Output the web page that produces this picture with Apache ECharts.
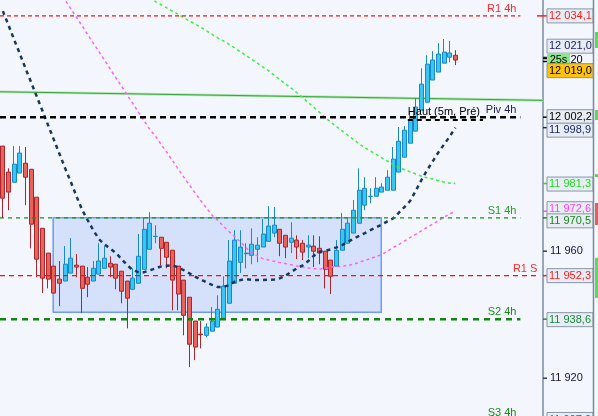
<!DOCTYPE html>
<html><head><meta charset="utf-8">
<script src="https://cdn.jsdelivr.net/npm/echarts@6/dist/echarts.min.js"></script>
<style>html,body{margin:0;padding:0;background:#f3f6fd}#c{width:598px;height:416px}</style>
</head><body><div id="c"></div><script>
// ---------- DATA ----------
const categories = Array.from({length: 96}, (_, i) => 'B' + (i + 1));
const opens = [11993.1,11984.9,11981.7,11984.6,11987.7,11985.8,11977.0,11967.2,11959.4,11955.3,
 11951.2,11950.6,11953.1,11955.6,11955.3,11951.8,11950.6,11952.8,11954.6,11956.2,
 11955.9,11953.7,11950.6,11948.0,11949.9,11954.3,11960.6,11964.6,11964.4,11962.8,
 11960.3,11955.3,11950.9,11945.5,11938.0,11933.9,11933.5,11934.8,11936.1,11938.9,
 11943.6,11949.9,11956.5,11959.2,11958.7,11960.6,11961.3,11963.1,11965.7,11966.9,
 11965.0,11962.8,11963.5,11962.5,11961.3,11961.6,11960.9,11960.0,11957.2,11955.3,
 11960.3,11962.5,11965.7,11968.8,11974.5,11977.2,11977.3,11978.6,11979.2,11979.2,
 11984.9,11989.6,11994.0,11997.8,12004.4,12006.9,12013.9,12016.4,12019.2,12021.1,12021.7];
const closes = [11976.7,11978.6,11987.4,11990.9,11983.3,11968.5,11957.5,11951.5,11951.2,11946.8,
 11949.9,11955.9,11957.8,11955.0,11948.3,11949.6,11954.6,11956.9,11957.8,11955.0,
 11951.5,11947.4,11945.2,11951.5,11958.4,11966.9,11968.8,11964.7,11960.9,11958.1,
 11950.9,11946.5,11939.8,11930.7,11929.8,11933.7,11936.1,11938.0,11941.7,11949.0,
 11956.9,11963.5,11961.3,11959.4,11962.2,11961.9,11965.4,11967.9,11968.2,11962.5,
 11961.3,11964.1,11961.3,11959.7,11961.9,11960.0,11959.4,11954.3,11952.1,11960.3,
 11966.9,11968.8,11972.9,11979.2,11979.8,11977.3,11979.8,11980.2,11983.3,11989.0,
 11994.6,11998.1,12001.3,12005.4,12012.6,12018.9,12020.2,12022.1,12022.7,12022.4,12020.2];
const lows = [11970.4,11972.9,11981.7,11984.6,11974.5,11960.9,11951.8,11946.8,11948.3,11946.8,
 11942.7,11950.6,11953.1,11951.8,11940.5,11945.5,11950.6,11952.8,11954.6,11951.8,
 11948.0,11943.6,11935.7,11948.0,11949.9,11954.3,11960.6,11962.5,11955.6,11954.6,
 11941.4,11941.4,11933.5,11923.5,11925.7,11929.4,11932.9,11934.8,11936.1,11938.9,
 11943.6,11949.9,11953.1,11954.6,11955.9,11956.5,11961.3,11963.1,11964.4,11958.4,
 11957.8,11959.4,11957.5,11957.2,11957.8,11955.0,11955.9,11948.3,11946.5,11955.3,
 11960.3,11962.5,11965.7,11968.8,11972.9,11975.1,11977.3,11978.6,11979.2,11979.2,
 11984.9,11989.6,11994.0,11997.8,12004.4,12006.9,12013.9,12016.4,12019.2,12019.5,12018.6];
const highs = [11993.1,11986.1,11993.1,11993.1,11992.8,11985.8,11977.0,11967.2,11959.4,11955.3,
 11956.9,11961.6,11964.1,11959.1,11955.3,11955.0,11956.9,11962.5,11961.6,11958.4,
 11955.9,11953.7,11950.6,11954.6,11965.4,11970.7,11972.3,11968.2,11964.4,11962.8,
 11960.3,11955.3,11950.9,11945.5,11938.0,11938.0,11937.3,11942.4,11946.1,11952.1,
 11963.5,11966.6,11966.6,11962.5,11967.2,11964.4,11970.1,11974.2,11973.9,11966.9,
 11965.0,11969.1,11965.0,11963.5,11965.0,11965.0,11964.7,11960.0,11957.2,11963.5,
 11972.0,11970.4,11976.1,11986.1,11983.3,11979.8,11983.3,11981.4,11985.5,11992.8,
 11999.1,11999.4,12003.8,12008.2,12017.6,12021.7,12023.0,12025.5,12026.8,12026.2,12023.3];
const maNavy = [12035.6,12031.2,12026.6,12022.2,12017.6,12013.2,12008.7,12004.2,11999.7,11995.2,
 11990.7,11986.2,11981.9,11977.4,11973.1,11969.8,11966.6,11963.8,11962.1,11960.8,
 11959.4,11957.5,11955.6,11954.0,11953.4,11953.4,11954.0,11954.6,11955.2,11955.4,
 11955.6,11954.9,11954.0,11953.0,11952.0,11951.1,11950.2,11949.4,11948.7,11948.8,
 11949.3,11950.4,11950.9,11951.2,11951.0,11950.9,11950.9,11951.0,11951.1,11951.5,
 11952.3,11953.5,11954.6,11955.5,11956.9,11958.6,11959.8,11960.1,11960.6,11961.2,
 11961.9,11963.0,11963.9,11964.8,11965.7,11966.6,11967.5,11968.4,11969.4,11970.3,
 11972.1,11973.9,11975.8,11979.0,11982.4,11985.5,11988.3,11991.1,11993.6,11996.1,11998.9];
const maPink = [null,null,null,null,null,null,null,null,null,null,
 12041.8,12039.1,12036.4,12033.7,12031.0,12028.2,12025.5,12022.8,12020.1,12017.3,
 12014.6,12011.9,12009.2,12006.5,12003.7,12001.0,11998.3,11996.2,11993.6,11991.1,
 11988.5,11985.9,11983.3,11980.8,11978.3,11975.9,11973.6,11971.3,11969.7,11967.9,
 11966.2,11964.6,11962.9,11961.1,11959.5,11958.5,11957.6,11957.2,11956.8,11956.4,
 11956.1,11955.7,11955.3,11955.0,11954.7,11954.5,11954.4,11954.5,11955.0,11955.1,
 11955.3,11955.5,11955.9,11956.5,11957.1,11957.7,11958.3,11959.0,11960.0,11961.1,
 11962.1,11963.2,11964.3,11965.3,11966.4,11967.5,11968.5,11969.6,11970.7,11971.7,11972.6];
const maGreen = [null,null,null,null,null,null,null,null,null,null,
 null,null,null,null,null,null,null,null,null,null,
 null,null,null,null,null,12040.8,12039.7,12038.6,12037.6,12036.6,
 12035.6,12034.6,12033.5,12032.5,12031.5,12030.5,12029.4,12028.3,12027.2,12026.2,
 12025.1,12024.0,12022.8,12021.6,12020.4,12019.2,12018.0,12016.8,12015.4,12014.0,
 12012.6,12011.3,12009.9,12008.4,12006.8,12005.3,12003.7,12002.1,12000.6,11999.2,
 11997.9,11996.5,11995.2,11993.8,11992.6,11991.5,11990.5,11989.4,11988.4,11987.3,
 11986.3,11985.7,11985.0,11984.3,11983.6,11983.1,11982.7,11982.2,11981.8,11981.4,11981.3];
const levelNames  = ['R1 4h', 'Piv 4h', 'S1 4h', 'R1 S', 'S2 4h', 'S3 4h'];
const levelValues = [12034.1, 12002.2, 11970.5, 11952.3, 11938.6, 11907.0];
const prevHighName = 'Haut (5m, Pré)';
const prevHighValue = 12001.3;
const trendValues = [12010.2, 12007.5];
const zoneValues = [11970.5, 11940.8];
const askValue = 12021.0, lastValue = 12020.2, bidValue = 12019.0;
const lastLabel = '12 020', timerLabel = '25s';
const yTickValues = [11920, 11960];

// ---------- STYLE / LAYOUT ----------
const FONT = '"Liberation Sans", Arial, sans-serif';
const Y_MIN = 11908.1, Y_MAX = 12039.1;
const N = categories.length;
const levelColors = ['#ff1010', '#000000', '#159615', '#ff1010', '#108810', '#108810'];
const levelTextColors = ['#ff2a2a', '#1c1c60', '#2a9a2a', '#ff2a2a', '#1a8a1a', '#1a8a1a'];
const levelWidths = [1.2, 2.5, 1.2, 1.2, 2.5, 2.5];
const levelDash = [[4,3], [6,4], [4,4], [5,4], [6,5], [6,5]];
const levelEnd = [92, 92, 92, 95.5, 92, 92];
const levelLabelRight = [91.3, 91.3, 91.3, 95, 91.3, 91.3];
const prevHighSpan = [72.1, 85.4];
const zoneSpan = [9.4, 67.4];

function fmt(v, d) {
  const s = v.toFixed(d).split('.');
  const int = s[0].replace(/\B(?=(\d{3})+(?!\d))/g, ' ');
  return d ? int + ',' + s[1] : int;
}

const chart = echarts.init(document.getElementById('c'), null, {renderer: 'canvas'});
const candleData = opens.map((o, i) => [o, closes[i], lows[i], highs[i]]);

const series = [];
series.push({
  type: 'line', xAxisIndex: 1, yAxisIndex: 0, data: [], z: 1, silent: true,
  markArea: {silent: true, itemStyle: {color: 'rgba(150,180,245,0.32)', borderColor: '#6d9cf2', borderWidth: 1.5},
    data: [[{coord: [zoneSpan[0], zoneValues[0]]}, {coord: [zoneSpan[1], zoneValues[1]]}]]}
});
series.push({type: 'line', xAxisIndex: 1, data: [[0, trendValues[0]], [N, trendValues[1]]], symbol: 'none', silent: true, z: 2,
  lineStyle: {color: '#b4e4b4', width: 2.6}});
series.push({type: 'line', xAxisIndex: 1, data: [[0, trendValues[0]], [N, trendValues[1]]], symbol: 'none', silent: true, z: 2,
  lineStyle: {color: '#35a835', width: 1}});
series.push({type: 'candlestick', xAxisIndex: 0, data: candleData, barWidth: 4.5, z: 3, silent: true,
  itemStyle: {color: '#3ac6f2', color0: '#e9625c', borderColor: '#1a88c6', borderColor0: '#a9262b', borderWidth: 1}});
series.push({type: 'line', xAxisIndex: 0, data: maGreen, symbol: 'none', silent: true, z: 4,
  lineStyle: {color: '#3ef03e', width: 1.5, type: [3, 3]}});
series.push({type: 'line', xAxisIndex: 0, data: maPink, symbol: 'none', silent: true, z: 4,
  lineStyle: {color: '#ff62ff', width: 1.5, type: [3, 3]}});
series.push({type: 'line', xAxisIndex: 0, data: maNavy, symbol: 'none', silent: true, z: 4,
  lineStyle: {color: '#18385f', width: 2.5, type: [4, 4]}});
levelNames.forEach((name, k) => {
  series.push({type: 'line', xAxisIndex: 1, data: [[0, levelValues[k]], [levelEnd[k], levelValues[k]]],
    symbol: 'none', silent: true, z: 5,
    lineStyle: {color: levelColors[k], width: levelWidths[k], type: levelDash[k]}});
});
series.push({type: 'line', xAxisIndex: 1, data: [[prevHighSpan[0], prevHighValue], [prevHighSpan[1], prevHighValue]],
  symbol: 'none', silent: true, z: 5, lineStyle: {color: '#000', width: 2, type: [5, 4]}});

chart.setOption({
  backgroundColor: '#f3f6fd',
  animation: false,
  grid: {left: 0, right: 55, top: 0, bottom: 0},
  xAxis: [
    {type: 'category', data: categories, show: false, boundaryGap: true},
    {type: 'value', min: 0, max: N, show: false}
  ],
  yAxis: {
    type: 'value', position: 'right', min: Y_MIN, max: Y_MAX,
    axisLine: {show: true, onZero: false, lineStyle: {color: '#7b8b9c', width: 1.5}},
    axisTick: {show: false},
    axisLabel: {show: false},
    splitLine: {show: false}
  },
  series
});

// ---------- LABELS (positioned from values) ----------
const py = v => chart.convertToPixel({yAxisIndex: 0}, v);
const pxv = x => chart.convertToPixel({xAxisIndex: 1}, x);
const g = [];
const txt = (text, x, y, fill, align, z) => g.push({type: 'text', silent: true, z: z || 100,
  style: {text, x, y, fill, font: '11px ' + FONT, textAlign: align || 'left', textVerticalAlign: 'middle', verticalAlign: 'middle'}});
const rect = (x, y, w, h, fill, stroke, z) => g.push({type: 'rect', silent: true, z: z || 99,
  shape: {x, y, width: w, height: h}, style: {fill, stroke: stroke || null, lineWidth: stroke ? 1 : 0}});
const tick = (x1, x2, y, color) => g.push({type: 'line', silent: true, z: 99, shape: {x1, y1: y, x2, y2: y}, style: {stroke: color, lineWidth: 1.5}});

levelNames.forEach((name, k) => txt(name, pxv(levelLabelRight[k]), py(levelValues[k]) - 7, levelTextColors[k], 'right'));
txt(prevHighName, pxv(prevHighSpan[0]), py(prevHighValue) - 8, '#000', 'left');

const axX = pxv(N);
yTickValues.forEach(v => { tick(axX, axX + 4, py(v), '#3a3a5a'); txt(fmt(v, 0), axX + 7, py(v), '#1a1040', 'left'); });
const bx = axX + 4, bw = 46, bh = 14;
const boxes = [
  {v: levelValues[0], color: '#ff1f1f', dy: 0},
  {v: askValue, color: '#1c1c60', dy: -11.3},
  {v: prevHighValue + 0.9, color: '#000', dy: -0.5},
  {v: maNavy[maNavy.length - 1], color: '#1a2a6a', dy: 2.5},
  {v: maGreen[maGreen.length - 1], color: '#22e022', dy: 0.5},
  {v: maPink[maPink.length - 1], color: '#ff44ff', dy: -2.5},
  {v: levelValues[2], color: '#1a8a1a', dy: 3},
  {v: levelValues[3], color: '#ff1f1f', dy: 0},
  {v: levelValues[4], color: '#1a8a3a', dy: 0.5},
  {v: levelValues[5], color: '#1a8a1a', dy: 0}
];
boxes.forEach(b => {
  const y = py(b.v);
  tick(axX, axX + 4, y, b.color);
  rect(bx, y + b.dy - bh / 2, bw, bh, '#e8ecf3', '#8797aa', 99);
  txt(fmt(b.v, 1), bx + 2, y + b.dy, b.color, 'left', 100);
});
tick(axX - 6, axX, py(levelValues[0]), '#ff1f1f');
const yl = py(lastValue);
tick(axX, axX + 4, yl - 1.5, '#000'); tick(axX, axX + 4, yl + 1.5, '#000');
txt(lastLabel, bx + 2, yl, '#000', 'left', 101);
rect(bx, yl - 7, 23, 14, '#8fe48f', null, 102);
txt(timerLabel, bx + 11.5, yl, '#000', 'center', 103);
const yb = py(bidValue) + 6.8;
rect(bx, yb - 7, bw, 14, '#ffc20e', '#8797aa', 104);
txt(fmt(bidValue, 1), bx + 2, yb, '#000', 'left', 105);

g.push({type: 'line', silent: true, z: 99, shape: {x1: 593.5, y1: 0, x2: 593.5, y2: 416}, style: {stroke: '#7b8b9c', lineWidth: 1.5}});
rect(594.5, 0, 4, 416, '#f7f8fb', null, 98);
rect(595, 32, 4, 16, '#5fd65f', null, 99);
rect(595, 110, 4, 10, '#5fd65f', null, 99);
rect(595, 174, 4, 3, '#5fd65f', null, 99);
rect(595, 203, 4, 22, '#e06060', null, 99);
rect(595, 258, 4, 40, '#5fd65f', null, 99);

chart.setOption({graphic: g});
</script></body></html>
